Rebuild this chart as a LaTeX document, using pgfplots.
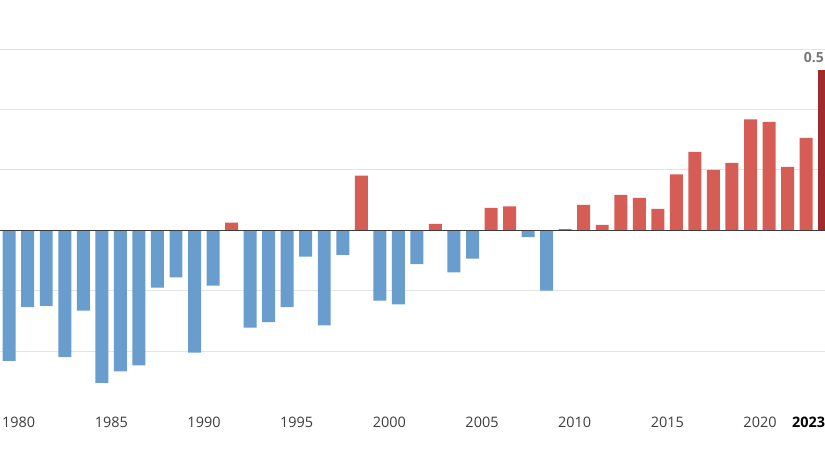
\documentclass[border=0pt]{standalone}
\usepackage{fontspec}
\setmainfont{Open Sans}
\usepackage{pgfplots}
\usepackage{pgfplotstable}
\pgfplotsset{compat=1.18}
\definecolor{blueb}{RGB}{104,157,205}
\definecolor{redb}{RGB}{213,93,85}
\definecolor{darkr}{RGB}{163,42,42}
\definecolor{gridc}{RGB}{228,228,228}
\definecolor{zeroc}{RGB}{60,60,60}
\definecolor{tickc}{RGB}{60,60,60}
\definecolor{labc}{RGB}{120,120,120}
\pgfplotstableread{
x y
1979 -0.432
1980 -0.254
1981 -0.250
1982 -0.420
1983 -0.266
1984 -0.505
1985 -0.467
1986 -0.447
1987 -0.190
1988 -0.156
1989 -0.405
1990 -0.183
1992 -0.322
1993 -0.304
1994 -0.254
1995 -0.087
1996 -0.315
1997 -0.081
1999 -0.233
2000 -0.245
2001 -0.112
2003 -0.139
2004 -0.094
2007 -0.023
2008 -0.200
}\negdata
\pgfplotstableread{
x y
1991 0.025
1998 0.181
2002 0.021
2005 0.074
2006 0.079
2009 0.004
2010 0.084
2011 0.018
2012 0.117
2013 0.107
2014 0.071
2015 0.185
2016 0.260
2017 0.200
2018 0.223
2019 0.367
2020 0.359
2021 0.210
2022 0.306
}\posdata
\pgfplotstableread{
x y
2023 0.530
}\lastdata
\begin{document}
\begin{tikzpicture}[x=1bp,y=1bp]
\useasboundingbox (0,0) rectangle (825,450);
\begin{axis}[
  at={(0,50bp)}, anchor=south west,
  scale only axis, width=825bp, height=400bp,
  xmin=1978.504, xmax=2023.02, ymin=-0.5619, ymax=0.7626,
  axis line style={draw=none}, major tick length=0pt,
  ytick={-0.4,-0.2,0.2,0.4,0.6}, yticklabels={},
  ymajorgrids, grid style={color=gridc, line width=1bp},
  xtick={1980,1985,...,2020},
  xticklabels={1980,1985,1990,1995,2000,2005,2010,2015,2020},
  xticklabel style={anchor=north east, xshift=11bp, yshift=-14bp,
    font=\fontsize{14.5}{16}\selectfont, text=tickc},
  extra x ticks={2023}, extra x tick labels={\textbf{2023}},
  extra x tick style={xticklabel style={xshift=-7bp, text=black}},
  ybar, bar width=0.7,
]
\addplot[fill=blueb, draw=none, bar shift=0pt] table {\negdata};
\addplot[fill=redb, draw=none, bar shift=0pt] table {\posdata};
\addplot[fill=darkr, draw=none, bar shift=0pt] table {\lastdata};
\draw[zeroc, line width=1.4bp] (axis cs:1978.504,0) -- (axis cs:2023.02,0);
\node[anchor=east, fill=white, inner sep=1bp, text=labc,
  font=\fontsize{14}{16}\selectfont\bfseries] at (axis cs:2023.02,0.572) {0.5};
\end{axis}
\end{tikzpicture}
\end{document}
